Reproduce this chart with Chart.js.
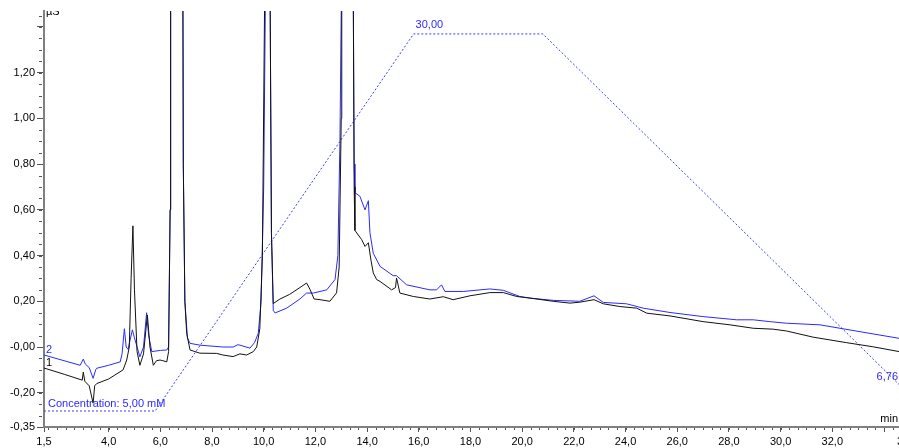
<!DOCTYPE html>
<html>
<head>
<meta charset="utf-8">
<script src="https://cdn.jsdelivr.net/npm/chart.js@4.4.1/dist/chart.umd.min.js"></script>
<style>
  html, body { margin: 0; padding: 0; background: #fff; }
  #wrap { width: 899px; height: 448px; }
</style>
</head>
<body>
<div id="wrap"><canvas id="chart"></canvas></div>
<script>
// Trace 1 (black): retention time [min] / conductivity [µS]
const trace1Time = [
  1.50, 2.30, 2.98, 3.02, 3.08, 3.25, 3.40, 3.46, 3.54, 4.00, 4.56, 4.70, 4.80, 4.87, 4.94, 5.00,
  5.10, 5.21, 5.35, 5.50, 5.60, 5.73, 5.85, 5.99, 6.10, 6.25, 6.32, 6.38, 6.40, 6.87, 6.89, 6.95,
  7.02, 7.15, 7.34, 7.53, 8.18, 8.42, 8.82, 9.08, 9.34, 9.60, 9.73, 9.85, 9.95, 10.05, 10.24, 10.30,
  10.37, 10.63, 11.00, 11.40, 11.66, 11.80, 11.95, 12.18, 12.56, 12.82, 12.92, 13.00, 13.02, 13.46,
  13.50, 13.53, 13.79, 13.92, 14.05, 14.15, 14.24, 14.37, 14.50, 14.95, 15.10, 15.14, 15.27, 15.79,
  16.43, 16.95, 17.33, 17.98, 18.75, 19.27, 19.79, 20.30, 21.20, 21.85, 22.23, 22.78, 23.14, 23.78,
  24.43, 24.82, 25.72, 27.00, 28.04, 28.94, 29.71, 30.23, 31.26, 32.55, 33.57, 34.58
]
const trace1Value = [
  -0.092, -0.12, -0.145, -0.11, -0.15, -0.17, -0.246, -0.17, -0.16, -0.14, -0.10, -0.057, 0.0, 0.30, 0.53, 0.25,
  -0.02, -0.08, -0.03, 0.14, 0.0, -0.08, -0.06, -0.057, -0.06, -0.065, -0.02, 0.6, 1.7, 1.7, 0.8, 0.2,
  0.06, -0.013, -0.02, -0.027, -0.028, -0.035, -0.042, -0.03, -0.035, -0.02, 0.0, 0.08, 0.4, 1.7, 1.7, 0.5,
  0.19, 0.21, 0.23, 0.26, 0.28, 0.25, 0.21, 0.207, 0.20, 0.237, 0.35, 1.0, 1.7, 1.7,
  0.7, 0.51, 0.47, 0.44, 0.456, 0.38, 0.324, 0.295, 0.287, 0.25, 0.26, 0.302, 0.236, 0.221,
  0.21, 0.22, 0.207, 0.224, 0.238, 0.238, 0.221, 0.214, 0.20, 0.192, 0.196, 0.207, 0.189, 0.177,
  0.17, 0.148, 0.136, 0.111, 0.097, 0.082, 0.078, 0.07, 0.043, 0.019, 0.001, -0.02
]

// Trace 2 (blue)
const trace2Time = [
  1.50, 2.90, 3.02, 3.10, 3.25, 3.40, 3.50, 3.54, 4.00, 4.45, 4.52, 4.61, 4.68, 4.75, 4.85, 4.92,
  5.00, 5.21, 5.35, 5.47, 5.55, 5.67, 6.00, 6.25, 6.32, 6.38, 6.40, 6.87, 6.89, 6.95, 7.05, 7.15,
  7.53, 8.42, 8.82, 9.00, 9.08, 9.47, 9.65, 9.79, 9.90, 10.00, 10.08, 10.24, 10.30, 10.37, 10.44, 10.89,
  11.40, 11.66, 11.92, 12.44, 12.76, 12.87, 12.95, 13.02, 13.46, 13.50, 13.53, 13.72, 13.92, 14.05,
  14.11, 14.24, 14.50, 15.01, 15.14, 15.53, 16.43, 16.69, 16.88, 17.01, 17.72, 18.75, 19.27, 19.91,
  20.30, 21.20, 22.23, 22.78, 23.14, 24.04, 24.68, 25.72, 27.00, 28.30, 28.94, 29.58, 30.23, 31.52,
  33.07, 34.58
]
const trace2Value = [
  -0.035, -0.08, -0.053, -0.075, -0.09, -0.137, -0.10, -0.093, -0.08, -0.065, -0.03, 0.08, 0.0, -0.01, 0.04, 0.075,
  0.04, -0.043, 0.0, 0.15, 0.05, -0.02, -0.015, -0.013, 0.0, 0.6, 1.7, 1.7, 0.8, 0.2, 0.04, 0.016,
  0.008, 0.0, 0.0, 0.01, 0.008, -0.005, 0.02, 0.06, 0.2, 0.7, 1.7, 1.7, 0.5, 0.16, 0.149, 0.17,
  0.21, 0.236, 0.236, 0.25, 0.295, 0.4, 0.9, 1.7, 1.7, 0.8, 0.675, 0.66, 0.60, 0.64,
  0.50, 0.41, 0.353, 0.312, 0.312, 0.272, 0.25, 0.25, 0.272, 0.243, 0.243, 0.254, 0.248, 0.221,
  0.214, 0.204, 0.20, 0.224, 0.195, 0.189, 0.17, 0.151, 0.133, 0.119, 0.119, 0.111, 0.104, 0.097,
  0.067, 0.038
]

// Eluent gradient program [min] / [mM]
const gradientTime = [1.5, 5.8, 15.8, 20.8, 34.58]
const gradientConc = [5, 5, 30, 30, 6.76]

const xTicks = [1.5, 4, 6, 8, 10, 12, 14, 16, 18, 20, 22, 24, 26, 28, 30, 32, 34]
const yTicks = [-0.35, -0.2, 0, 0.2, 0.4, 0.6, 0.8, 1.0, 1.2, 1.4]

const FONT = "'Liberation Sans', Arial, sans-serif"
const BLACK = "#111111"
const BLUE = "#2a2aff"
const AXIS = "#808080"

const points = (xs, ys) => xs.map((x, i) => ({ x, y: ys[i] }))
const comma = (v, digits) => v.toFixed(digits).replace(".", ",")
const lastXTick = xTicks[xTicks.length - 1]

// Small ticks between the labelled ones and the free-standing texts
const decorations = {
  id: "decorations",
  afterDraw(chart) {
    const { ctx, chartArea, scales: { x, y, conc } } = chart
    ctx.save()

    ctx.strokeStyle = "#555"
    ctx.lineWidth = 1
    ctx.beginPath()
    for (let v = 1.5 + 1 / 6; v < 34.6; v += 1 / 3) {
      const px = Math.round(x.getPixelForValue(v)) + 0.5
      ctx.moveTo(px, chartArea.bottom + 1)
      ctx.lineTo(px, chartArea.bottom + 3)
    }
    for (let v = -0.30; v < 1.47; v += 0.05) {
      const py = Math.round(y.getPixelForValue(v)) + 0.5
      ctx.moveTo(chartArea.left - 2, py)
      ctx.lineTo(chartArea.left - 5, py)
    }
    ctx.stroke()

    ctx.font = `11px ${FONT}`
    ctx.textBaseline = "alphabetic"

    // the last time label runs off the right edge
    ctx.fillStyle = "#000"
    ctx.textAlign = "left"
    ctx.fillText(comma(lastXTick, 1), x.getPixelForValue(lastXTick) + 13, chartArea.bottom + 18)

    ctx.fillStyle = BLUE
    ctx.fillText("Concentration: 5,00 mM", chartArea.left + 4, conc.getPixelForValue(gradientConc[0]) - 4)
    ctx.fillText(comma(gradientConc[2], 2), x.getPixelForValue(gradientTime[2]) + 2, conc.getPixelForValue(gradientConc[2]) - 6)
    ctx.fillText("2", chartArea.left + 2, y.getPixelForValue(trace2Value[0]) - 2)
    ctx.textAlign = "right"
    ctx.fillText(comma(gradientConc[4], 2), chartArea.right - 1, conc.getPixelForValue(gradientConc[4]) - 4)

    ctx.fillStyle = "#000"
    ctx.textAlign = "left"
    ctx.fillText("1", chartArea.left + 2, y.getPixelForValue(trace1Value[0]) - 2)
    ctx.textAlign = "right"
    ctx.fillText("min", chartArea.right - 1, chartArea.bottom - 5)

    ctx.beginPath()
    ctx.rect(0, chartArea.top, chartArea.right, 20)
    ctx.clip()
    ctx.textAlign = "left"
    ctx.fillText("µS", chartArea.left + 2, chartArea.top + 4)

    ctx.restore()
  }
}

new Chart(document.getElementById("chart"), {
  type: "line",
  data: {
    datasets: [
      {
        label: "1",
        data: points(trace1Time, trace1Value),
        borderColor: BLACK,
        borderWidth: 1
      },
      {
        label: "2",
        data: points(trace2Time, trace2Value),
        borderColor: BLUE,
        borderWidth: 1
      },
      {
        label: "Concentration",
        data: points(gradientTime, gradientConc),
        yAxisID: "conc",
        borderColor: "#3d3dff",
        borderWidth: 1,
        borderDash: [2, 2]
      }
    ]
  },
  options: {
    responsive: true,
    maintainAspectRatio: false,
    animation: false,
    events: [],
    layout: { padding: { top: 11, right: 0, left: 0, bottom: 0 } },
    elements: { point: { radius: 0 }, line: { tension: 0 } },
    plugins: { legend: { display: false }, tooltip: { enabled: false } },
    scales: {
      x: {
        type: "linear",
        min: 1.5,
        max: 34.58,
        afterBuildTicks: (scale) => { scale.ticks = xTicks.map((value) => ({ value })) },
        afterFit: (scale) => {
          scale.height = 21
          scale.paddingLeft = 0
          scale.paddingRight = 0
        },
        border: { color: AXIS, width: 2 },
        grid: { drawOnChartArea: false, tickLength: 5, tickColor: "#555" },
        ticks: {
          autoSkip: false,
          maxRotation: 0,
          padding: 3,
          color: "#000",
          font: { family: FONT, size: 11 },
          callback: (value) => value === lastXTick ? "" : comma(value, 1)
        }
      },
      y: {
        min: -0.35,
        max: 1.47,
        afterBuildTicks: (scale) => { scale.ticks = yTicks.map((value) => ({ value })) },
        afterFit: (scale) => {
          scale.width = 44
          scale.paddingTop = 0
          scale.paddingBottom = 0
        },
        border: { color: AXIS, width: 2 },
        grid: { drawOnChartArea: false, tickLength: 7, tickColor: "#555" },
        ticks: {
          autoSkip: false,
          padding: 2,
          color: "#000",
          font: { family: FONT, size: 11 },
          callback: (value) => {
            if (value === 1.4) return ""
            if (value === 0) return "-0,00"
            return comma(value, 2)
          }
        }
      },
      conc: {
        display: false,
        min: 3.94,
        max: 31.52
      }
    }
  },
  plugins: [ decorations ]
})
</script>
</body>
</html>
